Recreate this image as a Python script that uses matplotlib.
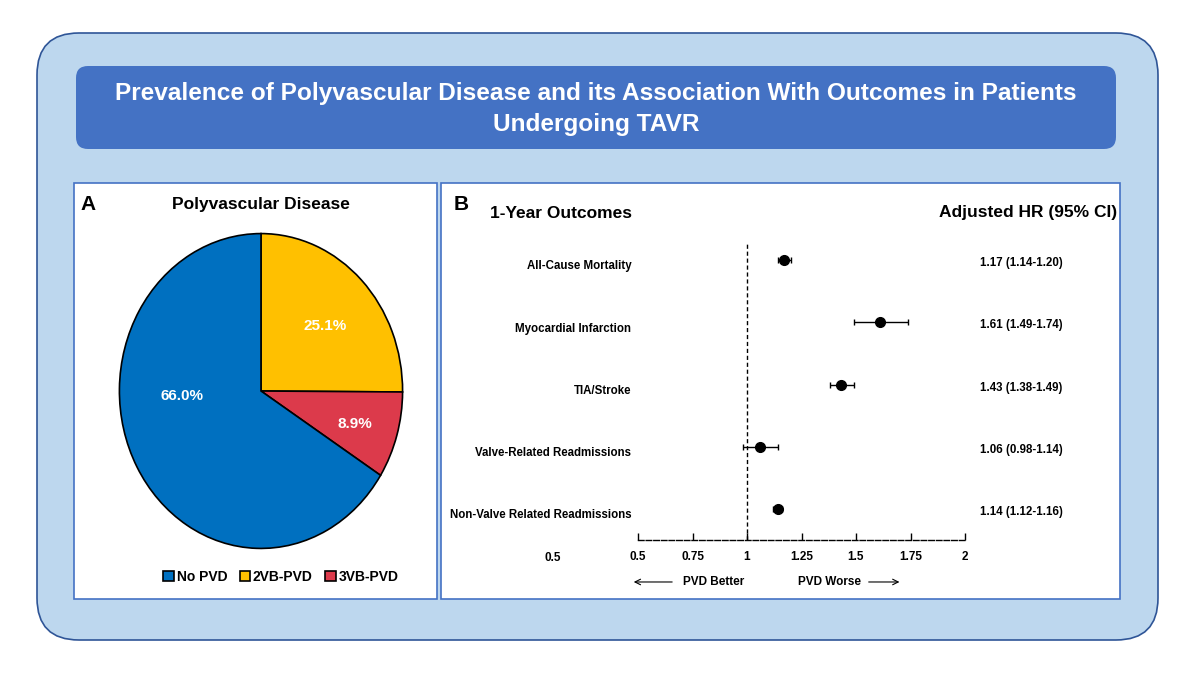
import matplotlib.pyplot as plt
from matplotlib.patches import FancyBboxPatch
from matplotlib.transforms import blended_transform_factory

plt.rcParams['font.family'] = ['Liberation Sans', 'DejaVu Sans']
plt.rcParams['font.weight'] = 'bold'

# data
groups = ['No PVD', '2VB-PVD', '3VB-PVD']
shares = [66.0, 25.1, 8.9]
group_colors = ['#0070C0', '#FFC000', '#DC3A4B']

outcomes = ['All-Cause Mortality', 'Myocardial Infarction', 'TIA/Stroke',
            'Valve-Related Readmissions', 'Non-Valve Related Readmissions']
hr = [1.17, 1.61, 1.43, 1.06, 1.14]
hr_lo = [1.14, 1.49, 1.38, 0.98, 1.12]
hr_hi = [1.20, 1.74, 1.49, 1.14, 1.16]
xticks = [0.5, 0.75, 1, 1.25, 1.5, 1.75, 2]
xticklabels = ['0.5', '0.75', '1', '1.25', '1.5', '1.75', '2']

W, H = 1200, 675
fig = plt.figure(figsize=(12, 6.75), dpi=100)


def px_axes(x0, y0, x1, y1):
    # pixel box (top-left origin) -> figure axes
    return fig.add_axes([x0 / W, 1 - y1 / H, (x1 - x0) / W, (y1 - y0) / H])


# background boxes
bg = fig.add_axes([0, 0, 1, 1])
bg.set_xlim(0, W)
bg.set_ylim(H, 0)
bg.axis('off')

bg.add_patch(FancyBboxPatch((37, 33), 1121, 607, boxstyle='round,pad=0,rounding_size=42',
                            fc='#BDD7EE', ec='#2F5597', lw=1.2))
bg.add_patch(FancyBboxPatch((76, 66), 1040, 83, boxstyle='round,pad=0,rounding_size=12',
                            fc='#4472C4', ec='none'))
bg.add_patch(FancyBboxPatch((74, 183), 363, 416, boxstyle='square,pad=0',
                            fc='white', ec='#4472C4', lw=1.2))
bg.add_patch(FancyBboxPatch((441, 183), 679, 416, boxstyle='square,pad=0',
                            fc='white', ec='#4472C4', lw=1.2))

bg.text(596, 109, 'Prevalence of Polyvascular Disease and its Association With Outcomes in Patients\nUndergoing TAVR',
        ha='center', va='center', color='white', fontsize=17.6, fontweight='bold', linespacing=1.45)

bg.text(80, 205, 'A', ha='left', va='center', fontsize=15, fontweight='bold')
bg.text(261, 205, 'Polyvascular Disease', ha='center', va='center', fontsize=12.5, fontweight='bold')
bg.text(454, 204, 'B', ha='left', va='center', fontsize=15, fontweight='bold')
bg.text(490, 213, '1-Year Outcomes', ha='left', va='center', fontsize=12.5, fontweight='bold')
bg.text(1117, 213, 'Adjusted HR (95% CI)', ha='right', va='center', fontsize=12.5, fontweight='bold')

# panel A: pie
pax = px_axes(118, 232, 404, 550)
order = [1, 2, 0]
wedges, texts, autotexts = pax.pie([shares[i] for i in order],
                                   colors=[group_colors[i] for i in order],
                                   startangle=90, counterclock=False, radius=1,
                                   autopct='%.1f%%', pctdistance=0.6,
                                   wedgeprops=dict(edgecolor='black', linewidth=1.2),
                                   textprops=dict(color='white', fontsize=11, fontweight='bold'))
pax.set_aspect('auto')
pax.set_xlim(-1.01, 1.01)
pax.set_ylim(-1.01, 1.01)
label_pos = [(0.45, 0.41), (0.66, -0.21), (-0.56, -0.03)]
for t, p in zip(autotexts, label_pos):
    t.set_position(p)

handles = [wedges[order.index(i)] for i in range(len(groups))]
fig.legend(handles, groups, loc='center', bbox_to_anchor=(281 / W, 1 - 577 / H),
           ncol=3, frameon=False, handlelength=0.75, handleheight=0.75,
           handletextpad=0.2, columnspacing=0.9, prop=dict(size=10, weight='bold'))

# panel B: forest plot
ax = px_axes(638, 229, 965, 540)
ypos = list(range(len(outcomes)))
xerr = [[h - l for h, l in zip(hr, hr_lo)], [u - h for h, u in zip(hr, hr_hi)]]
ax.errorbar(hr, ypos, xerr=xerr, fmt='o', color='black', ms=7, elinewidth=1,
            capsize=2.5, capthick=1)
ax.axvline(1, ymin=0, ymax=0.955, color='black', lw=1, ls=(0, (3, 2)))
ax.set_xlim(0.5, 2)
ax.set_ylim(len(outcomes) - 0.5, -0.5)
ax.set_xticks(xticks)
ax.set_xticklabels(xticklabels)
ax.set_yticks([])
for s in ['top', 'right', 'left']:
    ax.spines[s].set_visible(False)
ax.spines['bottom'].set_linestyle((0, (4, 1.5)))
ax.spines['bottom'].set_linewidth(1)
ax.tick_params(axis='x', direction='in', length=5, width=1, pad=8, labelsize=8.5)
for lab in ax.get_xticklabels():
    lab.set_fontweight('bold')

trans = blended_transform_factory(ax.transAxes, ax.transData)
for y, name, h, l, u in zip(ypos, outcomes, hr, hr_lo, hr_hi):
    ax.text(-0.02, y + 0.1, name, transform=trans, ha='right', va='center',
            fontsize=8.3, fontweight='bold')
    ax.text(1.046, y + 0.05, '%.2f (%.2f-%.2f)' % (h, l, u), transform=trans, ha='left',
            va='center', fontsize=8.3, fontweight='bold')

ax.text(-0.26, -0.039, '0.5', transform=ax.transAxes, ha='center', va='top',
        fontsize=8.5, fontweight='bold')

ax.annotate('', xy=(-0.0215, -0.135), xytext=(0.113, -0.135), xycoords='axes fraction',
            arrowprops=dict(arrowstyle='->', lw=0.8, color='black'))
ax.text(0.232, -0.135, 'PVD Better', transform=ax.transAxes, ha='center', va='center',
        fontsize=8.5, fontweight='bold')
ax.text(0.587, -0.135, 'PVD Worse', transform=ax.transAxes, ha='center', va='center',
        fontsize=8.5, fontweight='bold')
ax.annotate('', xy=(0.808, -0.135), xytext=(0.697, -0.135), xycoords='axes fraction',
            arrowprops=dict(arrowstyle='->', lw=0.8, color='black'))

fig.savefig('out.png', dpi=100, facecolor='white')
